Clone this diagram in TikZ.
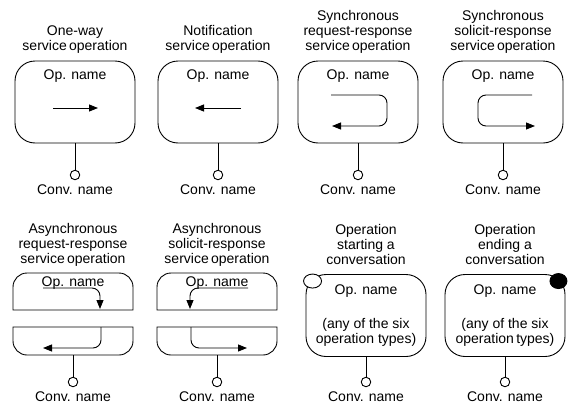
\documentclass[tikz,border=0pt]{standalone}
\usepackage{fontspec}
\setmainfont{Liberation Sans}
\usetikzlibrary{positioning,arrows.meta,shapes.geometric}

\def\boxwidth{120pt}
\def\boxheight{82pt}

\begin{document}
\begin{tikzpicture}[x=1pt,y=-1pt,line width=0.9pt,font=\fontsize{14}{15}\selectfont]
    \tikzstyle{op box}=[draw,rounded corners=20pt,minimum width=\boxwidth,minimum height=\boxheight,inner sep=0pt]
    \tikzstyle{title}=[align=center,inner sep=0pt]
    \tikzstyle{port}=[draw,circle,minimum size=9.5pt,inner sep=0pt]
    \tikzstyle{conv}=[inner sep=0pt]
    \tikzstyle{flow}=[-{Triangle[length=9pt,width=7pt]},rounded corners=8pt]

    \useasboundingbox (0,0) rectangle (568,407);

    % Draw the top row of operation boxes
    \foreach \name / \x in {1/75,2/218,3/358,4/503} {
        \node[op box] (op-\name) at (\x,102) {};
        \node[anchor=base] (opname-\name) at (\x,79) {Op. name};
    }

    % Draw the bottom row of operation boxes
    \foreach \name / \x in {7/366,8/505}
        \node[op box] (op-\name) at (\x,315.5) {};

    % Draw the split boxes of the asynchronous operations
    \foreach \name / \x in {5/73,6/217} {
        \draw (\x-60,310) [rounded corners=14pt] -- (\x-60,273) -- (\x+60,273) [sharp corners] -- (\x+60,310) -- cycle;
        \draw (\x-60,327) [rounded corners=14pt] -- (\x-60,355) -- (\x+60,355) [sharp corners] -- (\x+60,327) -- cycle;
        \coordinate (top-\name) at (\x,273);
        \coordinate (bot-\name) at (\x,355);
        \node[anchor=base] (opname-\name) at (\x,286.5) {Op. name};
    }

    % Draw the conversation ports
    \foreach \name / \x / \y in {1/75/175,2/218/175,3/358/175,4/503/175,5/73/382,6/217/382,7/366/382,8/505/382} {
        \node[port] (cv-\name) at (\x,\y) {};
        \node[conv,below=4pt of cv-\name] (cvname-\name) {Conv. name};
    }

    % Connect every box with its port
    \foreach \source in {1,2,3,4,7,8}
        \draw (op-\source) -- (cv-\source);
    \foreach \source in {5,6}
        \draw (bot-\source) -- (cv-\source);

    % Start and end markers
    \node[draw,ellipse,fill=white,minimum width=18pt,minimum height=14pt,inner sep=0pt] (start) at ([shift={(7pt,-7pt)}]op-7.north west) {};
    \node[draw,ellipse,fill=black,minimum width=17pt,minimum height=15pt,inner sep=0pt] (end) at ([shift={(-7pt,-7pt)}]op-8.north east) {};

    % Texts of the last two boxes
    \node[anchor=base] (opname-7) at (366,294) {Op. name};
    \node[anchor=base] (opname-8) at (505,294) {Op. name};
    \node[title,anchor=north] (types-7) at (366,318) {(any of the six\\operation types)};
    \node[title,anchor=north] (types-8) at (505,318) {(any of the six\\operation\,types)};

    % Draw the message flows inside the boxes
    \draw[flow] (53,108) -- (98,108);
    \draw[flow] (241,108) -- (195,108);
    \draw[flow] (331,95) -- (387,95) -- (387,126) -- (332,126);
    \draw[flow] (532,95) -- (478,95) -- (478,126) -- (535,126);
    \draw[flow] (43,288) -- (100,288) -- (100,309);
    \draw[flow] (101,327) -- (101,348) -- (43,348);
    \draw[flow] (248,288) -- (190,288) -- (190,309);
    \draw[flow] (191,327) -- (191,348) -- (247,348);

    % Annotate the operations
    \node[title,above=5pt of op-1] {One-way\\service\,operation\strut};
    \node[title,above=5pt of op-2] {Notification\\service\,operation\strut};
    \node[title,above=5pt of op-3] {Synchronous\\request-response\\service\,operation\strut};
    \node[title,above=5pt of op-4] {Synchronous\\solicit-response\\service\,operation\strut};
    \node[title,above=5pt of top-5] {Asynchronous\\request-response\\service\,operation\strut};
    \node[title,above=5pt of top-6] {Asynchronous\\solicit-response\\service\,operation\strut};
    \node[title,above=5pt of op-7] {Operation\\starting a\\conversation\strut};
    \node[title,above=5pt of op-8] {Operation\\ending a\\conversation\strut};
\end{tikzpicture}
\end{document}
